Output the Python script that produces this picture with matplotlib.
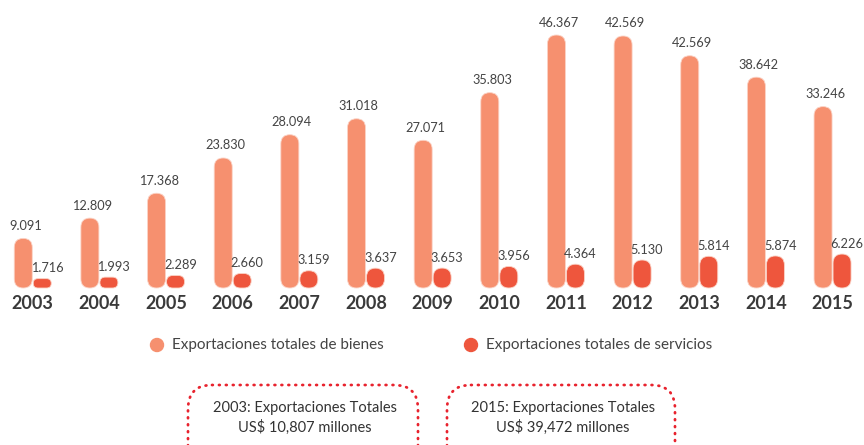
import numpy as np
import matplotlib
matplotlib.use("Agg")
import matplotlib.pyplot as plt
from matplotlib.patches import FancyBboxPatch, Circle

plt.rcParams['font.family'] = ['Lato', 'DejaVu Sans']

# data (millones de US$)
years = ['2003', '2004', '2005', '2006', '2007', '2008', '2009',
         '2010', '2011', '2012', '2013', '2014', '2015']
bienes = [9091, 12809, 17368, 23830, 28094, 31018, 27071,
          35803, 46367, 46190, 42569, 38642, 33246]
bienes_labels = ['9.091', '12.809', '17.368', '23.830', '28.094', '31.018', '27.071',
                 '35.803', '46.367', '42.569', '42.569', '38.642', '33.246']
servicios = [1716, 1993, 2289, 2660, 3159, 3637, 3653,
             3956, 4364, 5130, 5814, 5874, 6226]
servicios_labels = ['1.716', '1.993', '2.289', '2.660', '3.159', '3.637', '3.653',
                    '3.956', '4.364', '5.130', '5.814', '5.874', '6.226']
legend_labels = ['Exportaciones totales de bienes', 'Exportaciones totales de servicios']
box_texts = ['2003: Exportaciones Totales\nUS$ 10,807 millones',
             '2015: Exportaciones Totales\nUS$ 39,472 millones']

c_bienes = '#F6906F'
c_serv = '#EE563D'
c_text = '#444444'
c_box = '#E8232E'

W, H = 864, 445
fig = plt.figure(figsize=(W / 100, H / 100), dpi=100)

# main axes: baseline 288px from top, 66.65 px per year, 5.456 px per 1000
px_x = 66.65
px_y = 5.456 / 1000
ax = fig.add_axes([0, (H - 288) / H, 1, 288 / H])
ax.set_xlim(-32.75 / px_x, (W - 32.75) / px_x)
ax.set_ylim(0, 288 / px_y)
ax.axis('off')

aspect = (1 / px_y) / (1 / px_x)
off = 9.5 / px_x
bw = 18 / px_x


def pill(x, h, color):
    r = min(bw, h / aspect) / 2
    p = FancyBboxPatch((x - bw / 2, 0), bw, h,
                       boxstyle=f"round,pad=0,rounding_size={r}",
                       mutation_aspect=aspect, facecolor=color,
                       edgecolor='#FBD3C6', linewidth=0.6, clip_on=False)
    ax.add_patch(p)


x = np.arange(len(years))
for i in range(len(years)):
    pill(x[i] - off, bienes[i], c_bienes)
    pill(x[i] + off, servicios[i], c_serv)
    ax.annotate(bienes_labels[i], (x[i] - off, bienes[i]), xytext=(1.5, 9),
                textcoords='offset points', ha='center', va='center',
                fontsize=9.2, color=c_text)
    ax.annotate(servicios_labels[i], (x[i] + off, servicios[i]), xytext=(3.5, 7.5),
                textcoords='offset points', ha='center', va='center',
                fontsize=9.2, color=c_text)
    ax.annotate(years[i], (x[i], 0), xytext=(0, -11.5),
                textcoords='offset points', ha='center', va='center',
                fontsize=13, fontweight='bold', color='#3a3a3a')

# legend and note boxes, in pixel coords
deco = fig.add_axes([0, 0, 1, 1], zorder=-1)
deco.set_xlim(0, W)
deco.set_ylim(H, 0)
deco.axis('off')

for cx, col, lab in [(157, c_bienes, legend_labels[0]), (471, c_serv, legend_labels[1])]:
    deco.add_patch(Circle((cx, 345), 6.5, color=col))
    deco.text(cx + 15, 345, lab, ha='left', va='center', fontsize=11, color=c_text)

for (x0, x1), txt in zip([(188, 418), (447, 675)], box_texts):
    box = FancyBboxPatch((x0, 385), x1 - x0, 100,
                         boxstyle="round,pad=0,rounding_size=24",
                         facecolor='none', edgecolor=c_box, linewidth=2,
                         linestyle=(0, (0.3, 2.2)), capstyle='round', clip_on=True)
    deco.add_patch(box)
    deco.text((x0 + x1) / 2 + 2, 418, txt, ha='center', va='center',
              fontsize=10.5, color='#333333', linespacing=1.35)

fig.savefig('out.png', dpi=100, facecolor='white')
